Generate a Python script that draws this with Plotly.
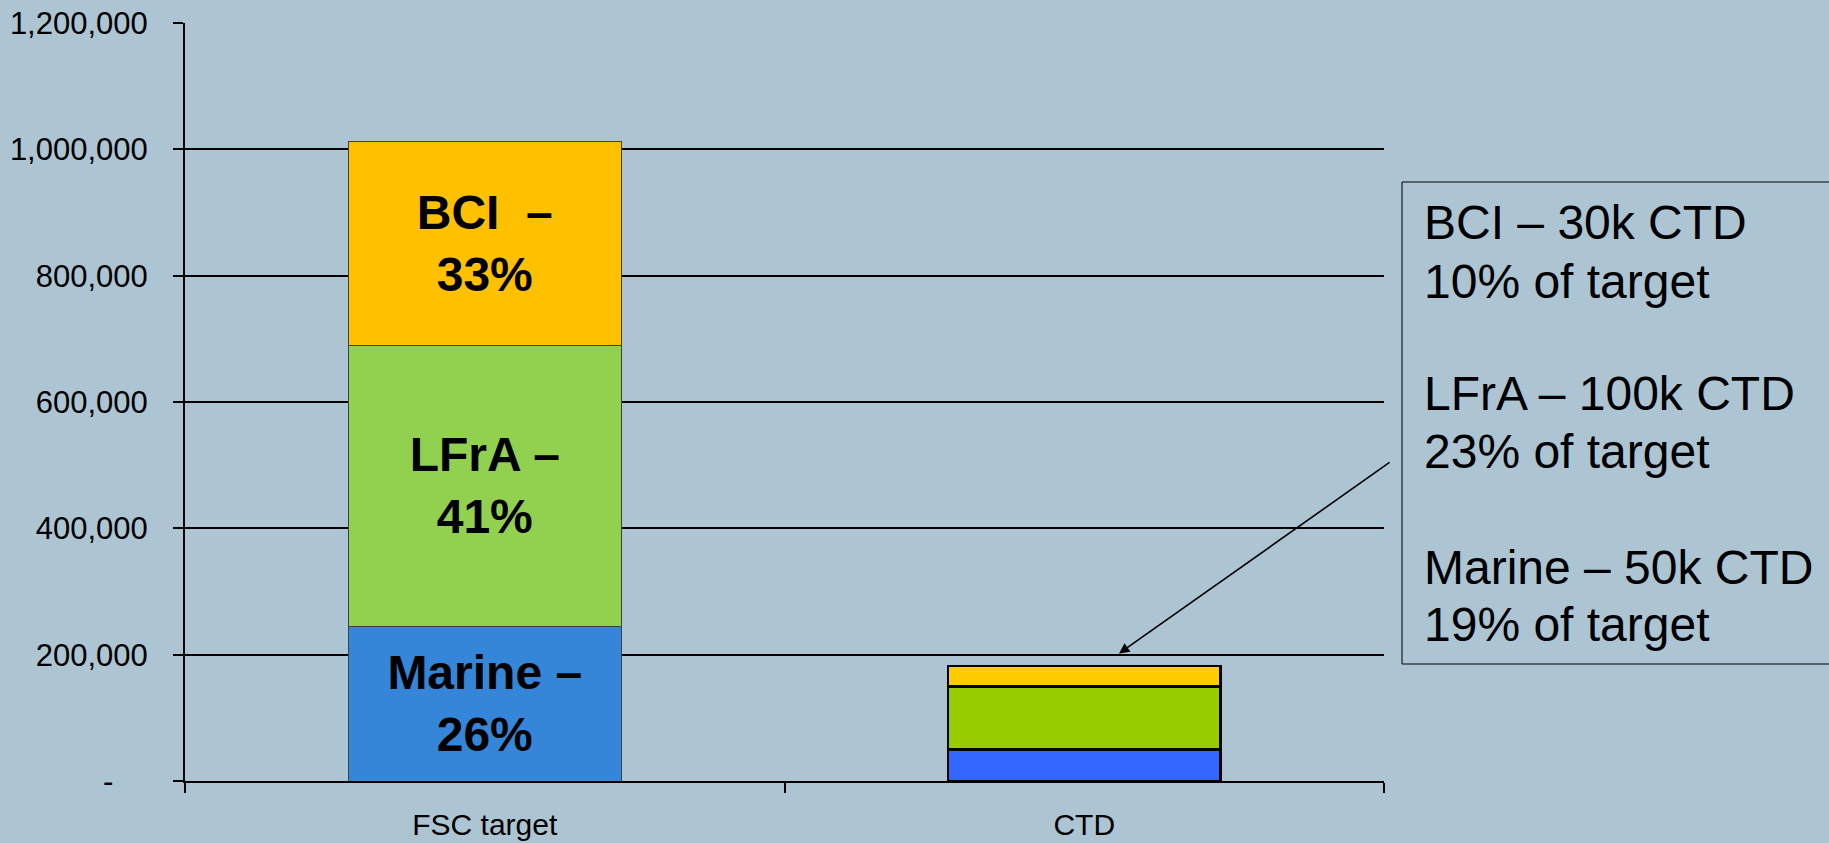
import plotly.graph_objects as go

categories = ["FSC target", "CTD"]
marine = [245000, 50000]
lfra = [445000, 100000]
bci = [322000, 32000]

marine_labels = ["<b>Marine –<br>26%</b>", ""]
lfra_labels = ["<b>LFrA –<br>41%</b>", ""]
bci_labels = ["<b>BCI\u00a0 –<br>33%</b>", ""]

y_ticks = [0, 200000, 400000, 600000, 800000, 1000000, 1200000]
y_ticktext = ["-\u00a0\u00a0\u00a0\u00a0", "200,000", "400,000", "600,000",
              "800,000", "1,000,000", "1,200,000"]

box_lines = ["BCI – 30k CTD", "10% of target",
             "LFrA – 100k CTD", "23% of target",
             "Marine – 50k CTD", "19% of target"]
# vertical centre of each line, pixels from top
box_line_y = [223, 281, 394, 452, 567, 624]

BG = "#ADC4D2"
FONT = "Arial, Liberation Sans, sans-serif"

# plot area in pixels: x 185..1384, y 23..781
W, H = 1829, 843
L, R, T, B = 185, W - 1384, 23, H - 781
pw, ph = W - L - R, H - T - B


def px_x(p):
    return (p - L) / pw


def px_y(p):
    return (H - B - p) / ph


def seg(name, vals, colors, labels):
    return go.Bar(
        name=name, x=categories, y=vals, width=0.455,
        text=labels, textposition="inside", insidetextanchor="middle",
        textangle=0, textfont=dict(family=FONT, size=48, color="black"),
        marker=dict(color=colors,
                    line=dict(color=["#404040", "black"], width=[1, 2.5])),
        hoverinfo="skip",
    )


fig = go.Figure()
fig.add_trace(seg("Marine", marine, ["#3585D8", "#3366FF"], marine_labels))
fig.add_trace(seg("LFrA", lfra, ["#92D050", "#99CC00"], lfra_labels))
fig.add_trace(seg("BCI", bci, ["#FFC000", "#FFCC00"], bci_labels))

fig.update_layout(
    width=W, height=H,
    barmode="stack",
    showlegend=False,
    margin=dict(l=L, r=R, t=T, b=B, pad=0),
    paper_bgcolor=BG,
    plot_bgcolor=BG,
    font=dict(family=FONT, color="black"),
)

fig.update_xaxes(
    type="category", range=[-0.5, 1.5], tickson="boundaries",
    showline=True, linecolor="black", linewidth=2,
    ticks="outside", ticklen=10, tickwidth=2, tickcolor="black",
    showgrid=False, tickfont=dict(size=30), ticklabelstandoff=16,
    automargin=False,
)
fig.update_yaxes(
    range=[0, 1200000], tickvals=y_ticks, ticktext=y_ticktext,
    showline=True, linecolor="black", linewidth=2,
    ticks="outside", ticklen=10, tickwidth=2, tickcolor="black",
    showgrid=True, gridcolor="black", gridwidth=2, zeroline=False,
    tickfont=dict(size=31), ticklabelstandoff=19,
    automargin=False,
)

# text box on the right
fig.add_shape(type="rect", xref="paper", yref="paper",
              x0=px_x(1402), x1=px_x(1900), y0=px_y(664), y1=px_y(182),
              line=dict(color="black", width=1), fillcolor="rgba(0,0,0,0)")
for line, yy in zip(box_lines, box_line_y):
    fig.add_annotation(xref="paper", yref="paper", x=px_x(1422), y=px_y(yy),
                       xanchor="left", yanchor="middle", align="left",
                       text=line, showarrow=False,
                       font=dict(family=FONT, size=48, color="black"))

# arrow pointing at the CTD bar
fig.add_annotation(x=1.058, y=202000, xref="x", yref="y",
                   ax=1391 - 1119, ay=462 - 654, text="",
                   showarrow=True, arrowhead=2, arrowsize=1.3,
                   arrowwidth=1.6, arrowcolor="black", standoff=0)

fig.write_html("out.html", config={"displayModeBar": False},
               post_script="document.body.style.margin='0';")
